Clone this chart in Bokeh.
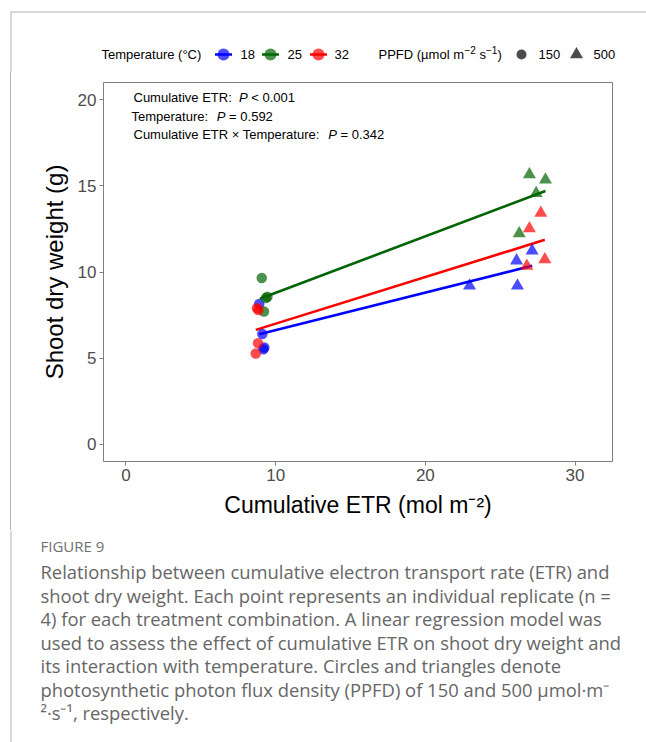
from bokeh.plotting import figure
from bokeh.layouts import column, row
from bokeh.models import Label, Range1d, FixedTicker, ColumnDataSource, Div
from bokeh.core.properties import value
from bokeh.embed import file_html
from bokeh.resources import INLINE

# ---------------- data ----------------
temperatures = ["18", "25", "32"]
temp_colors = ["#0000FF", "#006400", "#FF0000"]
ppfd_levels = ["150", "500"]

# PPFD 150 (circles)
etr_18_150 = [8.90, 9.11, 9.18, 9.24]
sdw_18_150 = [8.14, 6.40, 5.52, 5.62]
etr_25_150 = [9.07, 9.35, 9.45, 9.22]
sdw_25_150 = [9.65, 8.49, 8.56, 7.71]
etr_32_150 = [8.85, 8.75, 8.82, 8.67]
sdw_32_150 = [7.79, 7.90, 5.87, 5.27]
# PPFD 500 (triangles)
etr_18_500 = [27.13, 26.09, 22.95, 26.15]
sdw_18_500 = [11.24, 10.66, 9.20, 9.20]
etr_25_500 = [26.95, 28.02, 27.40, 26.27]
sdw_25_500 = [15.66, 15.35, 14.57, 12.24]
etr_32_500 = [27.71, 26.95, 27.98, 26.78]
sdw_32_500 = [13.43, 12.53, 10.73, 10.35]

# fitted regression lines per temperature (18, 25, 32)
fit_etr_start = [8.90, 8.95, 8.67]
fit_sdw_start = [6.38, 8.45, 6.64]
fit_etr_end = [27.13, 28.02, 27.98]
fit_sdw_end = [10.36, 14.70, 11.87]

x_ticks = [0, 10, 20, 30]
y_ticks = [0, 5, 10, 15, 20]

stats_lines = [("Cumulative ETR:", "P", "< 0.001"),
               ("Temperature:", "P", "= 0.592"),
               ("Cumulative ETR \u00d7 Temperature:", "P", "= 0.342")]

legend_temp_title = "Temperature (\u00b0C)"
# PPFD (µmol m^-2 s^-1), as (text, is_superscript) pieces
legend_ppfd_title = [("PPFD (\u00b5mol m", False), ("\u22122", True), ("s", False),
                     ("\u22121", True), (")", False)]

caption_title = "FIGURE 9"
caption_lines = [
    "Relationship between cumulative electron transport rate (ETR) and",
    "shoot dry weight. Each point represents an individual replicate (n =",
    "4) for each treatment combination. A linear regression model was",
    "used to assess the effect of cumulative ETR on shoot dry weight and",
    "its interaction with temperature. Circles and triangles denote",
    "photosynthetic photon flux density (PPFD) of 150 and 500 \u00b5mol\u00b7m\u207b",
    "\u00b2\u00b7s\u207b\u00b9, respectively.",
]

# ---------------- layout constants ----------------
W, H = 646, 742
TOP_H = 72          # legend strip
CAP_TOP = 530       # caption strip starts here
MAIN_H = CAP_TOP - TOP_H
CAP_H = H - CAP_TOP
VL_W = 11           # strip holding the outer frame line
FRAME_COL = "#b3b3b3"
FONT = "Liberation Sans"
CAP_FONT = "Open Sans"


def blank(w, h):
    f = figure(width=w, height=h, x_range=Range1d(0, w), y_range=Range1d(h, 0),
               x_axis_type=None, y_axis_type=None, toolbar_location=None,
               output_backend="svg", min_border=0)
    f.outline_line_color = None
    f.background_fill_color = "white"
    f.border_fill_color = "white"
    return f


def ptext(f, x, y, s, size, color="black", font=FONT, style="normal"):
    f.text(x=[x], y=[y], text=[s], text_font=value(font), text_font_size=size,
           text_color=color, text_font_style=style, text_align="left",
           text_baseline="middle")


# ---------------- legend strip ----------------
top = blank(W, TOP_H)
top.segment(x0=[10], y0=[11.5], x1=[W], y1=[11.5], line_color=FRAME_COL, line_width=1)
top.segment(x0=[10.5], y0=[11.5], x1=[10.5], y1=[TOP_H], line_color=FRAME_COL, line_width=1)
LY = 54
ptext(top, 101, LY, legend_temp_title, "13px")
key_x = [223, 270, 318]
lab_x = [240, 287, 334]
top.scatter(key_x, [LY] * 3, marker="circle", size=12, fill_color=temp_colors,
            fill_alpha=0.7, line_color=None)
top.segment(x0=[k - 8.5 for k in key_x], y0=[LY] * 3, x1=[k + 8.5 for k in key_x],
            y1=[LY] * 3, line_color=temp_colors, line_width=2.6)
for t, lx in zip(temperatures, lab_x):
    ptext(top, lx, LY, t, "13px")

# PPFD title pieces (widths from Arial/Liberation metrics)
piece_w = [85.5, 11.4, 6.5, 11.4, 4.3]
piece_gap = [0.5, 3.6, 0.0, 0.0, 0.0]
px = 378
for (s, sup), w, g in zip(legend_ppfd_title, piece_w, piece_gap):
    if sup:
        ptext(top, px, LY - 5, s, "10px")
    else:
        ptext(top, px, LY, s, "13px")
    px += w + g
top.scatter([521], [LY], marker="circle", size=10, fill_color="black",
            fill_alpha=0.7, line_color=None)
ptext(top, 538, LY, ppfd_levels[0], "13px")
top.scatter([576], [LY], marker="triangle", size=13, fill_color="black",
            fill_alpha=0.7, line_color=None)
ptext(top, 593, LY, ppfd_levels[1], "13px")

# ---------------- left frame strip next to the chart ----------------
vl = Div(width=VL_W, height=MAIN_H, text="", margin=0,
         styles={"border-right": f"1px solid {FRAME_COL}", "box-sizing": "border-box",
                 "background-color": "white", "padding": "0px", "margin": "0px"})

# ---------------- main chart ----------------
p = figure(width=W - VL_W, height=MAIN_H, x_range=Range1d(-1.5, 32.5),
           y_range=Range1d(-1, 21), output_backend="svg", toolbar_location=None,
           min_border_left=103 - VL_W, min_border_right=34,
           min_border_top=82 - TOP_H, min_border_bottom=MAIN_H - (461 - TOP_H))
p.background_fill_color = "white"
p.border_fill_color = "white"
p.outline_line_color = "#7f7f7f"
p.outline_line_width = 1
p.grid.visible = False

for ax in (p.xaxis[0], p.yaxis[0]):
    ax.axis_line_color = None
    ax.major_tick_line_color = "#7f7f7f"
    ax.major_tick_out = 4
    ax.major_tick_in = 0
    ax.minor_tick_line_color = None
    ax.major_label_text_font = FONT
    ax.major_label_text_font_size = "17px"
    ax.major_label_text_color = "#4d4d4d"
    ax.major_label_standoff = 3
    ax.axis_label_text_font = FONT
    ax.axis_label_text_font_style = "normal"
    ax.axis_label_text_color = "black"
    ax.axis_label_standoff = 8
p.xaxis.axis_label_text_font_size = "23px"
p.yaxis.axis_label_text_font_size = "24px"
p.yaxis.axis_label_standoff = 7

p.xaxis.ticker = FixedTicker(ticks=x_ticks)
p.yaxis.ticker = FixedTicker(ticks=y_ticks)
p.xaxis.axis_label = "Cumulative ETR (mol m\u207b\u00b2)"
p.yaxis.axis_label = "Shoot dry weight (g)"

# regression lines
line_src = ColumnDataSource(dict(x0=fit_etr_start, y0=fit_sdw_start,
                                 x1=fit_etr_end, y1=fit_sdw_end, color=temp_colors))
p.segment(x0="x0", y0="y0", x1="x1", y1="y1", line_color="color",
          line_width=2.6, source=line_src)

# points
groups = {
    ("18", "150"): (etr_18_150, sdw_18_150), ("25", "150"): (etr_25_150, sdw_25_150),
    ("32", "150"): (etr_32_150, sdw_32_150), ("18", "500"): (etr_18_500, sdw_18_500),
    ("25", "500"): (etr_25_500, sdw_25_500), ("32", "500"): (etr_32_500, sdw_32_500),
}
for (t, pp), (xs, ys) in groups.items():
    col = temp_colors[temperatures.index(t)]
    marker, size = ("circle", 10.5) if pp == "150" else ("triangle", 13)
    p.scatter(xs, ys, marker=marker, size=size, fill_color=col, fill_alpha=0.7,
              line_color=None)


def lab(x, y, s, style="normal"):
    # x, y in page pixels
    p.add_layout(Label(x=x - VL_W, y=y - TOP_H, x_units="canvas", y_units="canvas",
                       text=s, text_font=FONT, text_font_size="13px",
                       text_color="black", text_font_style=style,
                       text_align="left", text_baseline="middle"))


stat_y = [97, 115.5, 134]
stat_x = [133, 131, 133]
lead_w = [105.5, 85.3, 194.7]
for (a, b, c), sy, sx, lw in zip(stats_lines, stat_y, stat_x, lead_w):
    lab(sx, sy, a)
    lab(sx + lw, sy, b, "italic")
    lab(sx + lw + 12.3, sy, c)

# ---------------- caption strip ----------------
cap = blank(W, CAP_H)
cap.segment(x0=[10.5], y0=[0], x1=[10.5], y1=[CAP_H], line_color=FRAME_COL, line_width=1)
ptext(cap, 40, 545 - CAP_TOP, caption_title, "15px", color="#707070", font=CAP_FONT)
cap_y0, cap_dy = 571 - CAP_TOP, 23.5
for i, line in enumerate(caption_lines):
    ptext(cap, 40, cap_y0 + i * cap_dy, line, "18.4px", color="#666666", font=CAP_FONT)

layout = column(top, row(vl, p, spacing=0), cap, spacing=0)
open("out.html", "w").write(file_html(layout, INLINE))
